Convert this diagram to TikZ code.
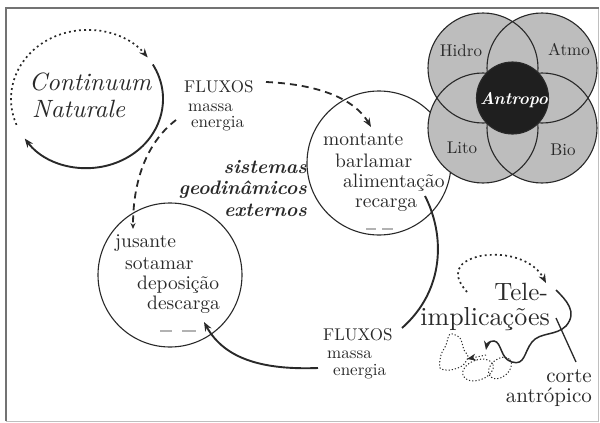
\documentclass[tikz,border=0pt]{standalone}
\usepackage{fontspec}
\setmainfont{lmroman10-regular.otf}[BoldFont=lmroman10-bold.otf, ItalicFont=lmroman10-italic.otf, BoldItalicFont=lmroman10-bolditalic.otf]
\usetikzlibrary{arrows.meta}
\definecolor{ink}{gray}{0.16}
\definecolor{venn}{gray}{0.74}
\definecolor{core}{gray}{0.12}
\newcommand{\fsz}[1]{\fontsize{#1}{#1}\selectfont}
\begin{document}
\begin{tikzpicture}[x=1pt,y=-1pt,
  txt/.style={inner sep=0pt, text=ink},
  ring/.style={draw=ink, line width=1.1pt, circle, inner sep=0pt},
  solidarc/.style={draw=ink, line width=1.9pt},
  dotline/.style={draw=ink, line width=1.7pt, dash pattern=on 1.9pt off 3.2pt},
  smalldot/.style={draw=ink, line width=1pt, dash pattern=on 1.2pt off 2pt},
  dashline/.style={draw=ink, line width=1.8pt, dash pattern=on 7pt off 5pt},
  arrowhd/.style={-{Stealth[length=9pt,width=7pt]}},
  smallhd/.style={-{Stealth[length=6pt,width=5pt]}},
  faint/.style={draw=black!30, line width=1.4pt}]
\useasboundingbox (0,0) rectangle (600,423);
% frame
\draw[black!25, line width=1pt] (6,421) -- (598.5,421) -- (598.5,7.5);
\draw[black!55, line width=2pt] (6,421) -- (6,7.5) -- (599,7.5);

% Continuum Naturale
\coordinate (cn) at (87,99);
\node[txt, anchor=base west, font=\fsz{25}\itshape] (cont) at (29,90) {Continuum};
\node[txt, anchor=base west, font=\fsz{25}\itshape] (nat) at (32,117) {Naturale};
\draw[solidarc, arrowhd] ([shift={(-30:76 and 69)}]cn) arc[start angle=-30, end angle=145, x radius=76, y radius=69];
\draw[dotline, arrowhd] ([shift={(158:76 and 69)}]cn) arc[start angle=158, end angle=323, x radius=76, y radius=69];

% top FLUXOS
\node[txt, anchor=base west, font=\fsz{17}] (flux1) at (184,92) {FLUXOS};
\node[txt, anchor=base west, font=\fsz{17}] (massa1) at (188,111) {massa};
\node[txt, anchor=base west, font=\fsz{17}] (energ1) at (191,127) {energia};

% sistemas geodinamicos externos
\node[txt, anchor=base east, font=\fsz{19.5}\bfseries\itshape] (sis) at (307,173) {sistemas};
\node[txt, anchor=base east, font=\fsz{19.5}\bfseries\itshape] (geo) at (307,194) {geodinâmicos};
\node[txt, anchor=base east, font=\fsz{19.5}\bfseries\itshape] (ext) at (307,216) {externos};

% montante circle
\node[ring, minimum size=144pt] (mont) at (379,163) {};
\node[txt, anchor=base west, font=\fsz{19.5}] (m1) at (323,145) {montante};
\node[txt, anchor=base west, font=\fsz{19.5}] (m2) at (335,167) {barlamar};
\node[txt, anchor=base west, font=\fsz{19.5}] (m3) at (343,187) {alimentação};
\node[txt, anchor=base west, font=\fsz{19.5}] (m4) at (355,207) {recarga};
\draw[faint] (366,229) -- (376,229);
\draw[faint] (382,229) -- (393,229);

% jusante circle
\node[ring, minimum size=144pt] (jus) at (170,275) {};
\node[txt, anchor=base west, font=\fsz{19.5}] (j1) at (115,247) {jusante};
\node[txt, anchor=base west, font=\fsz{19.5}] (j2) at (125,269) {sotamar};
\node[txt, anchor=base west, font=\fsz{19.5}] (j3) at (137,289) {deposição};
\node[txt, anchor=base west, font=\fsz{19.5}] (j4) at (147,309) {descarga};
\draw[faint] (160,331) -- (172,331);
\draw[faint] (182,331) -- (196,331);

% Venn diagram
\coordinate (vTL) at (483,68);
\coordinate (vTR) at (542,68);
\coordinate (vBL) at (483,128);
\coordinate (vBR) at (542,128);
\coordinate (vC) at (512.5,98);
\foreach \c in {vTL,vTR,vBL,vBR} \fill[venn] (\c) circle[radius=55];
\foreach \c in {vTL,vTR,vBL,vBR} \draw[ink, line width=1.1pt] (\c) circle[radius=55];
\fill[core] (vC) circle[radius=36];
\draw[ink, line width=1.1pt] (vC) circle[radius=36];
\node[txt, anchor=base, font=\fsz{17}] (hidro) at (461,56) {Hidro};
\node[txt, anchor=base, font=\fsz{17}] (atmo) at (569,55) {Atmo};
\node[txt, anchor=base, font=\fsz{17}] (lito) at (462,153) {Lito};
\node[txt, anchor=base, font=\fsz{17}] (bio) at (563,155) {Bio};
\node[inner sep=0pt, text=white, anchor=base, font=\fsz{17}\bfseries\itshape] (antr) at (514,104) {Antropo};

% bottom FLUXOS
\node[txt, anchor=base west, font=\fsz{17}] (flux2) at (323,340) {FLUXOS};
\node[txt, anchor=base west, font=\fsz{17}] (massa2) at (327,358) {massa};
\node[txt, anchor=base west, font=\fsz{17}] (energ2) at (333,375) {energia};

% connectors
\coordinate (fa) at (266,82);
\coordinate (fb) at (371,127);
\draw[dashline, arrowhd] (fa) .. controls (310,84) and (352,95) .. (fb);
\coordinate (fc) at (176,120);
\coordinate (fd) at (133,229);
\draw[dashline, smallhd] (fc) .. controls (150,140) and (133,175) .. (fd);
\coordinate (ma) at (425,196);
\coordinate (mb) at (402,328);
\draw[solidarc] (ma) .. controls (445,235) and (445,290) .. (mb);
\coordinate (ja) at (318,368);
\coordinate (jb) at (204,322);
\draw[solidarc, arrowhd] (ja) .. controls (265,370) and (225,360) .. (jb);

% Tele-implicacoes
\node[txt, anchor=base east, font=\fsz{25}] (tele) at (548,300) {Tele-};
\node[txt, anchor=base east, font=\fsz{26}] (impl) at (550,325) {implicações};
\node[txt, anchor=base east, font=\fsz{21}] (corte) at (592,382) {corte};
\node[txt, anchor=base east, font=\fsz{21}] (antrop) at (592,402) {antrópico};
\coordinate (ta) at (467,292);
\coordinate (tm) at (480,256);
\coordinate (tb) at (546,283);
\draw[dotline, arrowhd] (ta) .. controls (452,275) and (455,262) .. (tm) .. controls (510,251) and (535,262) .. (tb);
\coordinate (wa) at (556,290);
\coordinate (wx) at (566,326);
\coordinate (wb) at (486,350);
\draw[ink, line width=1.5pt, arrowhd] (wa) .. controls (566,300) and (578,312) .. (wx)
  .. controls (556,336) and (540,332) .. (532,342)
  .. controls (524,352) and (525,366) .. (512,362)
  .. controls (500,359) and (502,342) .. (494,341)
  .. controls (489,341) and (487,344) .. (wb);
\coordinate (ca) at (556,318);
\coordinate (cb) at (576,362);
\draw[ink, line width=1.3pt] (ca) -- (cb);
% dotted sketches
\draw[smalldot] plot[smooth cycle] coordinates {(450,334) (460,338) (464,350) (468,357) (462,366) (450,370) (440,368) (441,355) (446,345)};
\draw[smalldot, rotate around={20:(478,370)}] (478,370) ellipse[x radius=16, y radius=10];
\draw[smalldot, rotate around={40:(500,368)}] (500,368) ellipse[x radius=13, y radius=9];
\coordinate (da) at (486,355);
\coordinate (db) at (467,359);
\draw[smalldot, arrowhd] (da) -- (db);
\end{tikzpicture}
\end{document}
